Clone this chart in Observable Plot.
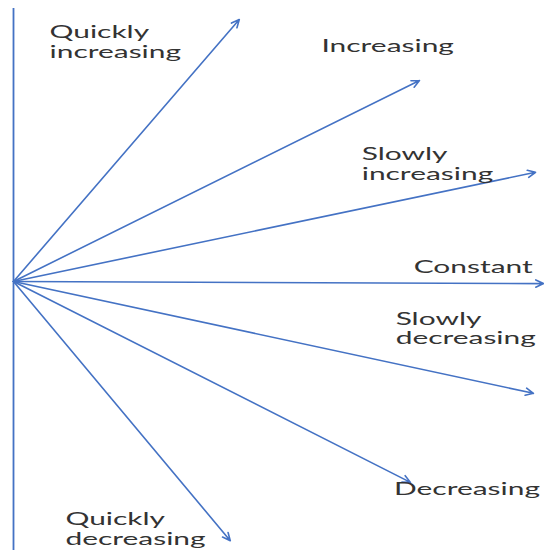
<!DOCTYPE html>
<html><head><meta charset="utf-8">
<script src="https://cdn.jsdelivr.net/npm/d3@7"></script>
<script src="https://cdn.jsdelivr.net/npm/@observablehq/plot@0.6"></script>
<style>body{margin:0;background:#fff}</style>
</head><body><div id="chart"></div>
<script>
const labels = ["Quickly\nincreasing", "Increasing", "Slowly\nincreasing", "Constant", "Slowly\ndecreasing", "Decreasing", "Quickly\ndecreasing"];
const endX = [4.26, 7.66, 9.85, 10.0, 9.81, 7.49, 4.09];
const endY = [4.94, 3.79, 2.06, -0.04, -2.11, -3.79, -4.89];
const labelX = [0.68, 5.81, 6.57, 7.55, 7.21, 7.18, 0.98];
const labelY = [4.85, 4.59, 2.55, 0.43, -0.55, -3.77, -4.34];
const originX = 0, originY = 0;
const axisTop = 5.15, axisBottom = -5.075;

const data = labels.map((label, i) => ({label, ox: originX, oy: originY, ex: endX[i], ey: endY[i], lx: labelX[i], ly: labelY[i]}));
const blue = "#4472c4";

const plot = Plot.plot({
  width: 544, height: 550,
  marginLeft: 13, marginRight: 1, marginTop: 0, marginBottom: 0,
  x: {domain: [0, 10], axis: null},
  y: {domain: [-5.075, 5.3], axis: null},
  style: {background: "#fff"},
  marks: [
    Plot.ruleX([originX], {y1: axisTop, y2: axisBottom, stroke: blue, strokeWidth: 1.8}),
    Plot.arrow(data, {x1: "ox", y1: "oy", x2: "ex", y2: "ey", stroke: blue, strokeWidth: 1.6, headLength: 8, headAngle: 50}),
    Plot.text(data, {x: "lx", y: "ly", text: "label", textAnchor: "start", lineAnchor: "top", fontSize: 17, fill: "#333", fontFamily: "Lato", lineHeight: 1.15})
  ]
});
plot.querySelectorAll('g[aria-label="text"] text').forEach(t => {
  const tr = t.getAttribute("transform") || "";
  t.setAttribute("transform", tr + " scale(1.76,1)");
});
document.getElementById("chart").appendChild(plot);
</script>
</body></html>
